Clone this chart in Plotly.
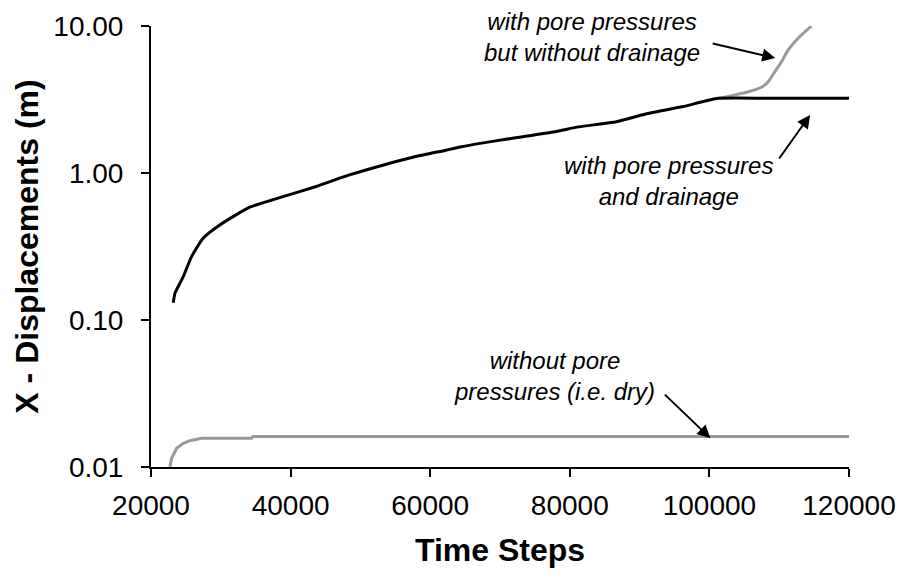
import math
import plotly.graph_objects as go

# ---- data ----
drained_x = [23190, 23430, 24620, 25810, 27470, 29860, 34140, 38900, 43670, 48430,
             53190, 57500, 62240, 64500, 67140, 72000, 77860, 81290, 86670, 90860,
             96190, 101290, 110000, 120000]
drained_y = [0.131, 0.152, 0.197, 0.27, 0.36, 0.443, 0.585, 0.69, 0.81, 0.97,
             1.13, 1.28, 1.43, 1.51, 1.59, 1.73, 1.91, 2.06, 2.23, 2.52,
             2.83, 3.22, 3.22, 3.22]

undrained_x = [101290, 103670, 105570, 107470, 108430, 109380, 110330, 111290, 112710, 114620]
undrained_y = [3.22, 3.40, 3.57, 3.83, 4.18, 4.89, 5.71, 6.87, 8.25, 10.0]

dry_x = [22710, 22950, 23670, 24620, 25570, 27240, 34380, 34620, 120000]
dry_y = [0.0100, 0.01146, 0.0134, 0.0145, 0.0151, 0.01567, 0.01567, 0.0161, 0.0161]

x_ticks = [20000, 40000, 60000, 80000, 100000, 120000]
y_ticks = [0.01, 0.1, 1, 10]
y_ticktext = ["0.01", "0.10", "1.00", "10.00"]

FONT = "Liberation Sans, Arial, sans-serif"
GRAY = "#999999"

fig = go.Figure()
fig.add_trace(go.Scatter(x=dry_x, y=dry_y, mode="lines",
                         line=dict(color=GRAY, width=3), showlegend=False))
fig.add_trace(go.Scatter(x=undrained_x, y=undrained_y, mode="lines",
                         line=dict(color=GRAY, width=3, shape="spline", smoothing=0.6),
                         showlegend=False))
fig.add_trace(go.Scatter(x=drained_x, y=drained_y, mode="lines",
                         line=dict(color="black", width=3, shape="spline", smoothing=0.5),
                         showlegend=False))

L = math.log10  # annotation positions on a log axis are given in log10 units
ann_font = dict(family=FONT, size=24, color="black")
arrow = dict(xref="x", yref="y", text="", showarrow=True, arrowhead=2, arrowsize=1.3,
             arrowwidth=2, arrowcolor="black", standoff=0, startstandoff=0)
annotations = [
    dict(x=83140, y=L(8.41), xref="x", yref="y", showarrow=False,
         text="<i>with pore pressures<br>but without drainage</i>",
         font=ann_font, align="center", xanchor="center", yanchor="middle"),
    dict(x=94140, y=L(0.883), xref="x", yref="y", showarrow=False,
         text="<i>with pore pressures<br>and drainage</i>",
         font=ann_font, align="center", xanchor="center", yanchor="middle"),
    dict(x=77860, y=L(0.0419), xref="x", yref="y", showarrow=False,
         text="<i>without pore<br>pressures (i.e. dry)</i>",
         font=ann_font, align="center", xanchor="center", yanchor="middle"),
    dict(arrow, x=109430, y=L(6.05), ax=-64, ay=-15),
    dict(arrow, x=114430, y=L(2.48), ax=-32, ay=45),
    dict(arrow, x=100140, y=L(0.0157), ax=-47, ay=-45),
]

fig.update_layout(
    width=900, height=578,
    margin=dict(l=151, r=51, t=26, b=111, pad=0),
    paper_bgcolor="white", plot_bgcolor="white",
    font=dict(family=FONT, size=27, color="black"),
    annotations=annotations,
    showlegend=False,
)
fig.update_xaxes(
    range=[20000, 120000], tickvals=x_ticks, ticktext=[str(v) for v in x_ticks],
    showgrid=False, zeroline=False, showline=True, linecolor="black", linewidth=2,
    ticks="outside", ticklen=8, tickwidth=2, tickcolor="black", automargin=False,
    tickfont=dict(family=FONT, size=28), ticklabelstandoff=4,
    title=dict(text="<b>Time Steps</b>", font=dict(family=FONT, size=32), standoff=19),
)
fig.update_yaxes(
    type="log", range=[-2, 1], tickvals=y_ticks, ticktext=y_ticktext,
    showgrid=False, zeroline=False, showline=True, linecolor="black", linewidth=2,
    ticks="outside", ticklen=8, tickwidth=2, tickcolor="black", automargin=False,
    tickfont=dict(family=FONT, size=28), ticklabelstandoff=12,
    title=dict(text="<b>X - Displacements (m)</b>", font=dict(family=FONT, size=32), standoff=5),
)

fig.write_html("out.html")
